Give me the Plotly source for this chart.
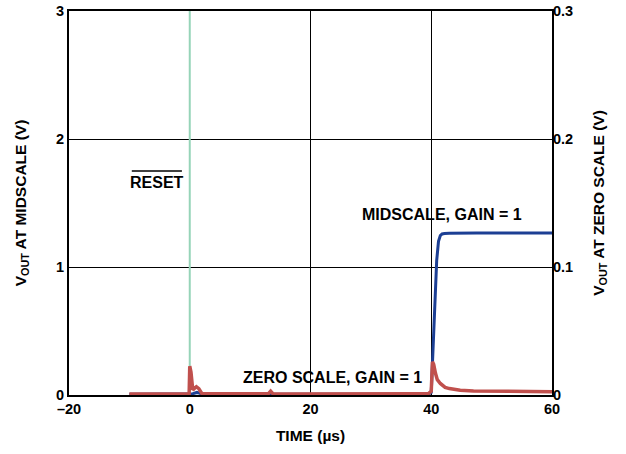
import plotly.graph_objects as go

# Midscale output (left axis, V)
mid_t = [-10, -5, 0, 0.5, 1.2, 2, 5, 10, 15, 20, 25, 30, 35, 39.5, 40.0, 40.3, 40.6, 40.9, 41.2, 41.5, 41.8, 42.2, 43, 45, 46.8, 47.5, 50, 55, 60]
mid_v = [0.005, 0.005, 0.005, 0.01, 0.02, 0.008, 0.005, 0.005, 0.005, 0.005, 0.005, 0.005, 0.005, 0.005, 0.02, 0.35, 0.75, 1.05, 1.2, 1.245, 1.258, 1.262, 1.264, 1.265, 1.27, 1.265, 1.265, 1.265, 1.265]

# Zero-scale output (right axis, V)
zero_t = [-10, -8, -6, -4, -2, -0.5, -0.1, 0, 0.2, 0.5, 0.8, 1.1, 1.5, 2, 3, 5, 8, 11, 13, 13.4, 13.8, 16, 20, 25, 30, 35, 38, 39.5, 40.0, 40.2, 40.4, 40.7, 41.0, 41.5, 42.3, 43, 44.8, 47, 50, 55, 60]
zero_v = [0.0008, 0.0006, 0.0009, 0.0007, 0.0008, 0.0009, 0.001, 0.0225, 0.018, 0.004, 0.005, 0.0065, 0.005, 0.0012, 0.0009, 0.0008, 0.0007, 0.0008, 0.0009, 0.003, 0.0009, 0.0008, 0.0007, 0.0008, 0.0008, 0.0009, 0.0009, 0.001, 0.003, 0.026, 0.024, 0.017, 0.012, 0.009, 0.006, 0.005, 0.0038, 0.0032, 0.003, 0.0027, 0.0025]

reset_t = [0, 0]
reset_v = [0, 3]

x_ticks = [-20, 0, 20, 40, 60]
x_tick_text = ["\u201320", "0", "20", "40", "60"]
y_ticks = [0, 1, 2, 3]
y_tick_text = ["0", "1", "2", "3"]
y2_ticks = [0, 0.1, 0.2, 0.3]
y2_tick_text = ["0", "0.1", "0.2", "0.3"]

def b(s):
    return "<b>%s</b>" % s

FAM = "Liberation Sans, Arial, sans-serif"
tickf = dict(family=FAM, size=14.5, color="black")
titlef = dict(family=FAM, size=15.5, color="black")
annf = dict(family=FAM, size=16, color="black")

fig = go.Figure()
fig.add_trace(go.Scatter(x=reset_t, y=reset_v, mode="lines", line=dict(color="#96d4b8", width=2), yaxis="y", showlegend=False, hoverinfo="skip"))
fig.add_trace(go.Scatter(x=mid_t, y=mid_v, mode="lines", line=dict(color="#1c3f94", width=3), yaxis="y", showlegend=False))
fig.add_trace(go.Scatter(x=zero_t, y=zero_v, mode="lines", line=dict(color="#c0504d", width=3.5), yaxis="y2", showlegend=False))

fig.update_layout(
    width=626, height=454,
    margin=dict(l=69, r=74, t=11, b=59, autoexpand=False),
    paper_bgcolor="white", plot_bgcolor="white",
    font=dict(family=FAM, size=13, color="black"),
    xaxis=dict(range=[-20, 60], tickvals=x_ticks, ticktext=[b(t) for t in x_tick_text], showgrid=True, gridcolor="black", gridwidth=1,
               showline=True, linecolor="black", linewidth=2, mirror=True, ticks="", zeroline=False, automargin=False,
               ticklabeloverflow="allow",
               title=dict(text=b("TIME (\u00b5s)"), standoff=14, font=titlef), tickfont=tickf),
    yaxis=dict(range=[0, 3], tickvals=y_ticks, ticktext=[b(t) for t in y_tick_text], showgrid=True, gridcolor="black", gridwidth=1,
               showline=True, linecolor="black", linewidth=2, mirror=True, ticks="", zeroline=False, automargin=False,
               ticklabeloverflow="allow",
               title=dict(text=b("V<sub>OUT</sub> AT MIDSCALE (V)"), standoff=26, font=titlef), tickfont=tickf),
    yaxis2=dict(range=[0, 0.3], tickvals=y2_ticks, ticktext=[b(t) for t in y2_tick_text], overlaying="y", side="right",
                showgrid=False, showline=False, ticks="", zeroline=False, automargin=False, tickfont=tickf,
                ticklabeloverflow="allow",
                title=dict(text=b("V<sub>OUT</sub> AT ZERO SCALE (V)"), standoff=20, font=titlef)),
    annotations=[
        dict(x=-5.5, y=1.66, xref="x", yref="y", text=b("RESET"), showarrow=False, font=annf),
        dict(x=41.8, y=1.41, xref="x", yref="y", text=b("MIDSCALE, GAIN = 1"), showarrow=False, font=annf),
        dict(x=23.7, y=0.14, xref="x", yref="y", text=b("ZERO SCALE, GAIN = 1"), showarrow=False, font=annf),
    ],
)
# overline for RESET
fig.add_shape(type="line", x0=-9.6, x1=-1.3, y0=1.75, y1=1.75, xref="x", yref="y", line=dict(color="black", width=1.5))

fig.write_html("out.html", config={"displayModeBar": False}, post_script="document.body.style.margin='0';")
